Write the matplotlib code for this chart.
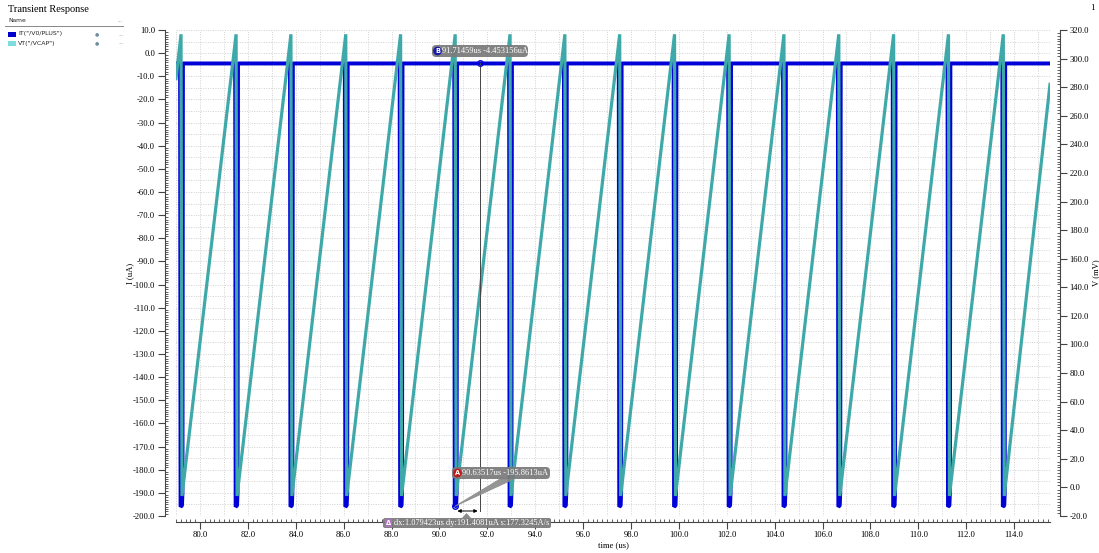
import numpy as np
import matplotlib
matplotlib.use("Agg")
import matplotlib.pyplot as plt
from matplotlib.lines import Line2D
from matplotlib.patches import Polygon, Rectangle, FancyBboxPatch
from matplotlib.transforms import IdentityTransform

plt.rcParams['axes.unicode_minus'] = False
SERIF = 'Liberation Serif'

# pulse times (us)
pulse_t = [79.17, 81.47, 83.76, 86.05, 88.34, 90.62, 92.91, 95.20,
           97.49, 99.78, 102.06, 104.35, 106.64, 108.93, 111.22, 113.51]
i_base = -4.45      # uA, idle current
i_low = -196.0      # uA, bottom of each pulse
i_tip = -190.0
v_peak = 317.0      # mV, top of the VCAP ramp
v_low = -6.0        # mV, bottom of the VCAP ramp
v_start = 286.0
v_end = 282.0
t_start, t_end = 79.0, 115.5

# markers
mA = (90.63517, -195.8613)
mB = (91.71459, -4.453156)

blue = '#0000d8'
teal = '#3fa9a9'

# current polyline
it_t = [t_start]
it_v = [i_base]
for t0 in pulse_t:
    it_t += [t0, t0 + 0.02, t0 + 0.08, t0 + 0.10, t0 + 0.12]
    it_v += [i_base, i_low, i_low + 0.5, i_tip, i_base]
it_t.append(t_end)
it_v.append(i_base)

# VCAP polyline
vt_t = [t_start]
vt_v = [v_start]
for t0 in pulse_t:
    vt_t += [t0 + 0.04, t0 + 0.08]
    vt_v += [v_peak, v_low]
vt_t.append(t_end)
vt_v.append(v_end)

W, H = 1099, 553
L, R, T, B = 176, 1050, 30, 516
fig = plt.figure(figsize=(10.99, 5.53), dpi=100)
ax = fig.add_axes([L / W, 1 - B / H, (R - L) / W, (B - T) / H])
ax.set_xlim(t_start, t_end)
ax.set_ylim(-200, 10)


# pixel -> data helpers for the annotation marks
def px_t(px):
    return t_start + (px - L) / (R - L) * (t_end - t_start)


def px_i(py):
    return 10 - (py - T) / (B - T) * 210


# dotted grid
grid = dict(colors='#d0d0d0', linestyles=(0, (1, 1.5)), lw=0.7, zorder=0)
ax.vlines(np.arange(79, 116, 1), -200, 10, **grid)
ax.vlines([t_end], -200, 10, **grid)
ax.hlines(np.arange(-200, 11, 5), t_start, t_end, **grid)

ax.plot(it_t, it_v, color=blue, lw=2.8, solid_joinstyle='bevel', solid_capstyle='butt', zorder=2)

ax2 = ax.twinx()
ax2.set_ylim(-20, 320)
ax2.plot(vt_t, vt_v, color=teal, lw=2.3, solid_joinstyle='bevel', zorder=2)

for a in (ax, ax2):
    a.spines['top'].set_visible(False)
    a.patch.set_visible(False)
ax.spines['right'].set_visible(False)
ax2.spines['left'].set_visible(False)
ax2.spines['bottom'].set_visible(False)
ax.spines['left'].set_position(('outward', 8))
ax.spines['bottom'].set_position(('outward', 4))
ax2.spines['right'].set_position(('outward', 7))
for s in (ax.spines['left'], ax.spines['bottom'], ax2.spines['right']):
    s.set_color('#444444')
    s.set_linewidth(0.8)

ax.set_xticks(np.arange(80, 115, 2))
ax.set_xticks(np.arange(79, 115.6, 0.2), minor=True)
ax.set_yticks(np.arange(-200, 11, 10))
ax.set_yticks(np.arange(-200, 11, 1), minor=True)
ax2.set_yticks(np.arange(-20, 321, 20))
ax2.set_yticks(np.arange(-20, 321, 2), minor=True)
fmt = matplotlib.ticker.FormatStrFormatter('%.1f')
ax.xaxis.set_major_formatter(fmt)
ax.yaxis.set_major_formatter(fmt)
ax2.yaxis.set_major_formatter(fmt)
for a in (ax, ax2):
    a.tick_params(which='major', direction='out', length=5, width=0.8, color='#444444',
                  labelsize=6.2, pad=2)
    a.tick_params(which='minor', direction='in', length=2.5, width=0.6, color='#444444')
for lab in ax.get_xticklabels() + ax.get_yticklabels() + ax2.get_yticklabels():
    lab.set_family(SERIF)

ax.set_xlabel('time (us)', family=SERIF, fontsize=6.2)
ax.set_ylabel('I (uA)', family=SERIF, fontsize=6.2)
ax2.set_ylabel('V (mV)', family=SERIF, fontsize=6.2)
ax.xaxis.set_label_coords(0.5, (B - 541) / (B - T))
ax.yaxis.set_label_coords((134 - L) / (R - L), 0.5)
ax2.yaxis.set_label_coords((1092 - L) / (R - L), 0.5)

# markers and annotations, drawn on top of both traces
tr = ax.transData
ax2.plot([mB[0]], [mB[1]], marker='o', ms=4, mfc='none', mec=blue, mew=1.0, transform=tr, zorder=5)
ax2.plot([mA[0]], [mA[1]], marker='o', ms=4, mfc='none', mec=blue, mew=1.0, transform=tr, zorder=5)
ax2.plot([mB[0], mB[0]], [mB[1], px_i(511)], color='#444444', lw=0.7, transform=tr, zorder=4)
ax2.annotate('', xy=(mA[0], px_i(511)), xytext=(mB[0], px_i(511)), xycoords=tr, textcoords=tr,
             arrowprops=dict(arrowstyle='<|-|>', color='black', lw=0.7, mutation_scale=5),
             annotation_clip=False, zorder=6)

pix = IdentityTransform()


def label_box(x0, x1, y0, y1, icon_col, icon, text, rnd=4):
    box = FancyBboxPatch((x0, H - y1), x1 - x0, y1 - y0,
                         boxstyle='round,pad=0,rounding_size=%g' % rnd,
                         fc='#7a7a7a', ec='none', alpha=0.93, transform=pix, clip_on=False, zorder=7)
    ax2.add_patch(box)
    yc = H - (y0 + y1) / 2
    ax2.text(x0 + 10.5, yc, text, family=SERIF, fontsize=6.0, color='white',
             va='center', ha='left', transform=pix, clip_on=False, zorder=8)
    shape = 'square,pad=0.2' if icon == 'Δ' else 'circle,pad=0.2'
    ax2.text(x0 + 5.5, yc, icon, fontsize=4.8, color='white', va='center', ha='center',
             weight='bold', transform=pix, clip_on=False,
             bbox=dict(boxstyle=shape, fc=icon_col, ec='none'), zorder=9)


label_box(432, 528, 45, 57, '#1a1aa0', 'B', '91.71459us -4.453156uA')

ax2.add_patch(Polygon([(px_t(500), px_i(479)), (px_t(514), px_i(479)), mA], closed=True,
                      fc='#8a8a8a', ec='#8a8a8a', lw=0.6, alpha=0.9, transform=tr, zorder=6))
label_box(452, 550, 467, 479, '#c01818', 'A', '90.63517us -195.8613uA')

ax2.add_patch(Polygon([(462, H - 518), (466.5, H - 513), (471, H - 518)],
                      closed=True, fc='#8a8a8a', ec='none', transform=pix, clip_on=False, zorder=7))
label_box(383, 551, 518, 528, '#b070c0', 'Δ', 'dx:1.079423us dy:191.4081uA s:177.3245A/s', 2)


# left panel
def fx(px):
    return px / W


def fy(py):
    return 1 - py / H


fig.text(fx(8), fy(10), 'Transient Response', family=SERIF, fontsize=7.5, va='center')
fig.text(fx(1092), fy(8), '1', family=SERIF, fontsize=6.5, va='center', ha='center')
fig.text(fx(8), fy(20), 'Name', fontsize=4.3, va='center', color='#222222')
fig.text(fx(117), fy(20), '...', fontsize=4.3, va='center', color='#999999')
fig.add_artist(Line2D([fx(5), fx(123)], [fy(25.5), fy(25.5)], color='#888888', lw=0.7))
rows = [('IT("/V0/PLUS")', '#0000cc', 34), ('VT("/VCAP")', '#7fdcdc', 43)]
for name, col, py in rows:
    fig.add_artist(Rectangle((fx(8), fy(py + 2.5)), fx(8), 5 / H, fc=col, ec='none'))
    fig.text(fx(18), fy(py), name, fontsize=4.5, va='center', color='#222222')
    fig.text(fx(97), fy(py), '●', fontsize=3.5, va='center', ha='center', color='#7090a0')
    fig.text(fx(118), fy(py), '...', fontsize=4.3, va='center', color='#999999')

fig.savefig('out.png', dpi=100)
